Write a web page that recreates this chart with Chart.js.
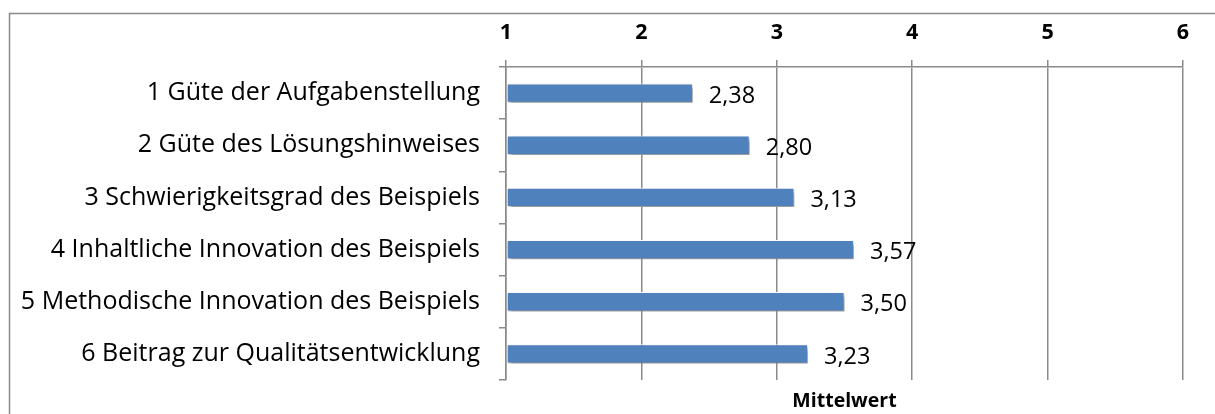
<!DOCTYPE html>
<html>
<head>
<meta charset="utf-8">
<script src="https://cdn.jsdelivr.net/npm/chart.js@4/dist/chart.umd.min.js"></script>
<style>
html,body{margin:0;padding:0;background:#fff;}
#wrap{position:relative;width:1215px;height:414px;}
</style>
</head>
<body>
<div id="wrap"><canvas id="c" width="1215" height="414"></canvas></div>
<script>
const categories = [
  "1 Güte der Aufgabenstellung",
  "2 Güte des Lösungshinweises",
  "3 Schwierigkeitsgrad des Beispiels",
  "4 Inhaltliche Innovation des Beispiels",
  "5 Methodische Innovation des Beispiels",
  "6 Beitrag zur Qualitätsentwicklung"
];
const means = [2.38, 2.80, 3.13, 3.57, 3.50, 3.23];
const axisMin = 1;
const axisMax = 6;
const axisTitle = "Mittelwert";

const FONT = "'Open Sans', Lato, sans-serif";
const GRID = "#8a8a8a";

const frame = {
  id: 'frame',
  beforeDraw(chart) {
    const ctx = chart.ctx;
    ctx.save();
    ctx.strokeStyle = GRID;
    ctx.lineWidth = 1.5;
    ctx.beginPath();
    ctx.moveTo(9.5, 420);
    ctx.lineTo(9.5, 13.5);
    ctx.lineTo(1220, 13.5);
    ctx.stroke();
    ctx.restore();
  }
};

const barShadow = {
  id: 'barShadow',
  beforeDatasetDraw(chart) {
    const ctx = chart.ctx;
    ctx.save();
    ctx.shadowColor = 'rgba(0,0,0,0.45)';
    ctx.shadowBlur = 4;
    ctx.shadowOffsetX = 2;
    ctx.shadowOffsetY = 3;
  },
  afterDatasetDraw(chart) {
    chart.ctx.restore();
  }
};

const valueLabels = {
  id: 'valueLabels',
  afterDatasetsDraw(chart) {
    const ctx = chart.ctx;
    const meta = chart.getDatasetMeta(0);
    ctx.save();
    ctx.font = "23.5px " + FONT;
    ctx.fillStyle = "#000";
    ctx.textAlign = "left";
    ctx.textBaseline = "middle";
    meta.data.forEach((bar, i) => {
      const txt = means[i].toFixed(2).replace('.', ',');
      ctx.fillText(txt, bar.x + 16, bar.y + 3);
    });
    ctx.restore();
  }
};

new Chart(document.getElementById('c'), {
  type: 'bar',
  data: {
    labels: categories,
    datasets: [{
      data: means,
      base: axisMin,
      backgroundColor: '#4f81bd',
      borderColor: '#ffffff',
      borderWidth: 1,
      borderSkipped: false,
      categoryPercentage: 1,
      barPercentage: 0.37
    }]
  },
  options: {
    indexAxis: 'y',
    responsive: false,
    animation: false,
    layout: { padding: { left: 0, right: 32, top: 0, bottom: 0 } },
    plugins: {
      legend: { display: false },
      tooltip: { enabled: false }
    },
    scales: {
      x: {
        position: 'top',
        min: axisMin,
        max: axisMax,
        ticks: {
          stepSize: 1,
          padding: 14,
          color: '#000',
          font: { family: FONT, size: 21.5, weight: 'bold' }
        },
        grid: { color: GRID, lineWidth: 1.5, tickLength: 7 },
        border: { color: GRID, width: 1.5 },
        afterFit(s) { s.height = 67; }
      },
      x2: {
        position: 'bottom',
        type: 'linear',
        min: axisMin,
        max: axisMax,
        ticks: { display: false },
        grid: { display: false },
        border: { display: false },
        title: {
          display: true,
          text: axisTitle,
          color: '#000',
          padding: { top: 0, bottom: 0 },
          font: { family: FONT, size: 19.5, weight: 'bold' }
        },
        afterFit(s) { s.height = 33; }
      },
      y: {
        ticks: {
          padding: 19,
          color: '#000',
          font: { family: FONT, size: 25 }
        },
        grid: { drawOnChartArea: false, color: GRID, lineWidth: 1.5, tickLength: 7, offset: true },
        border: { color: GRID, width: 1.5 },
        afterFit(s) { s.width = 506; }
      }
    }
  },
  plugins: [frame, barShadow, valueLabels]
});
</script>
</body>
</html>
